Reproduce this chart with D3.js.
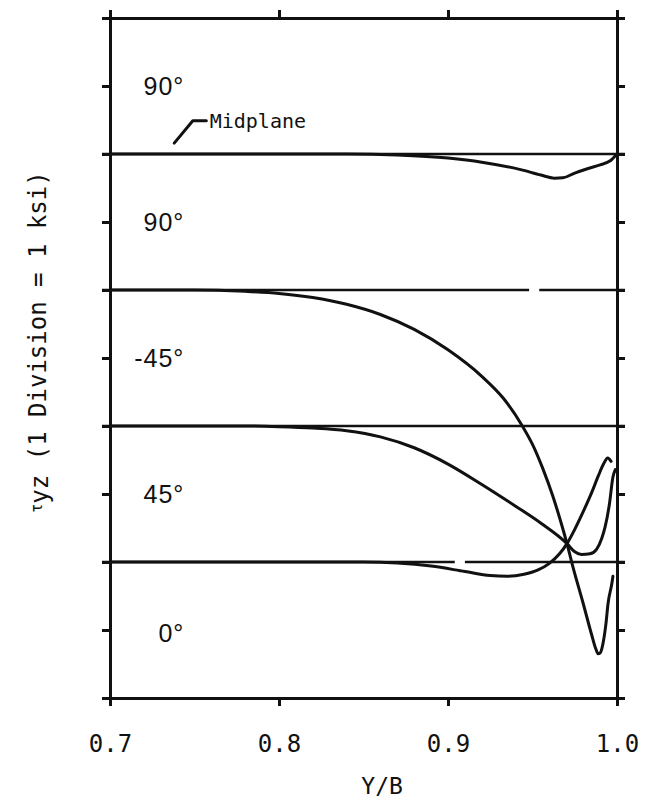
<!DOCTYPE html>
<html>
<head>
<meta charset="utf-8">
<script src="https://cdn.jsdelivr.net/npm/d3@7"></script>
<style>
  body { margin: 0; background: #fff; }
  .axis path, .axis line { stroke: #111; stroke-width: 3; }
  .axis text { font-family: "DejaVu Sans Mono", monospace; font-size: 24px; fill: #111; }
  .baseline { stroke: #111; stroke-width: 2.7; fill: none; }
  .curve { stroke: #111; stroke-width: 3; fill: none; stroke-linecap: round; stroke-linejoin: round; }
  .band { font-family: "Liberation Sans", Arial, sans-serif; font-size: 25px; fill: #111; letter-spacing: 1px; }
  .mono { font-family: "DejaVu Sans Mono", monospace; fill: #111; }
</style>
</head>
<body>
<svg id="chart"></svg>
<script>
// tick values / labels
var xTicks = [0.7, 0.8, 0.9, 1.0];
var xTickLabels = ["0.7", "0.8", "0.9", "1.0"];
var yDivisions = [0, 1, 2, 3, 4, 5, 6, 7, 8, 9, 10];

// zero lines of each ply (in divisions, 1 division = 1 ksi)
var baselines = [2, 4, 6, 8];
var baselineGaps = [[2, 0.904, 0.910], [6, 0.948, 0.954]];

// ply labels and the band they sit in
var bandLabels = ["0\u00b0", "45\u00b0", "-45\u00b0", "90\u00b0", "90\u00b0"];
var bandLabelY = [0.95, 3, 5, 7, 9];

// curves: [Y/B, divisions]
var midplane = [[0.70, 8.0], [0.84, 8.0], [0.87, 7.985], [0.90, 7.94], [0.92, 7.88], [0.943, 7.77],
  [0.955, 7.69], [0.963, 7.645], [0.968, 7.65], [0.975, 7.72], [0.982, 7.78], [0.99, 7.84],
  [0.996, 7.9], [1.0, 8.0]];
var ply45neg = [[0.70, 6.0], [0.75, 6.0], [0.78, 5.98], [0.80, 5.95], [0.82, 5.89], [0.84, 5.79],
  [0.86, 5.64], [0.88, 5.42], [0.90, 5.12], [0.92, 4.73], [0.933, 4.40], [0.944, 4.0],
  [0.950, 3.73], [0.956, 3.38], [0.962, 2.97], [0.967, 2.57], [0.9704, 2.27], [0.974, 1.92],
  [0.980, 1.39], [0.985, 0.93], [0.9875, 0.72], [0.9888, 0.65], [0.990, 0.66], [0.9917, 0.80],
  [0.9935, 1.10], [0.9947, 1.39], [0.997, 1.69], [0.9976, 1.79]];
var ply45 = [[0.70, 4.0], [0.78, 4.0], [0.80, 3.99], [0.82, 3.97], [0.84, 3.93], [0.86, 3.84],
  [0.88, 3.68], [0.90, 3.44], [0.92, 3.14], [0.94, 2.82], [0.955, 2.57], [0.9704, 2.27],
  [0.975, 2.15], [0.979, 2.11], [0.984, 2.12], [0.988, 2.19], [0.991, 2.35], [0.993, 2.52],
  [0.9955, 2.85], [0.9976, 3.25], [0.999, 3.36]];
var ply0 = [[0.70, 2.0], [0.85, 2.0], [0.87, 1.985], [0.89, 1.94], [0.91, 1.86], [0.925, 1.80],
  [0.935, 1.79], [0.945, 1.82], [0.953, 1.88], [0.960, 1.98], [0.966, 2.12], [0.9704, 2.27],
  [0.975, 2.48], [0.980, 2.74], [0.985, 3.02], [0.989, 3.27], [0.992, 3.44], [0.9945, 3.53],
  [0.9965, 3.48]];

// leader for the "Midplane" note
var midplaneLeader = [[0.738, 8.16], [0.749, 8.49], [0.757, 8.49]];

var width = 645, height = 807;
var margin = {top: 18, right: 28, bottom: 109, left: 110};

var svg = d3.select("#chart")
  .attr("width", width)
  .attr("height", height);

var xScale = d3.scaleLinear().domain([0.7, 1.0]).range([margin.left, width - margin.right]);
var yScale = d3.scaleLinear().domain([0, 10]).range([height - margin.bottom, margin.top]);

var line = d3.line()
  .x(function(d) { return xScale(d[0]); })
  .y(function(d) { return yScale(d[1]); })
  .curve(d3.curveMonotoneX);

// frame with ticks
svg.append("g")
  .attr("class", "axis")
  .attr("transform", `translate(0, ${yScale(0)})`)
  .call(d3.axisBottom(xScale).tickValues(xTicks).tickSize(8).tickSizeOuter(0).tickPadding(29)
    .tickFormat(function(d, i) { return xTickLabels[i]; }));

svg.append("g")
  .attr("class", "axis")
  .attr("transform", `translate(0, ${yScale(10)})`)
  .call(d3.axisTop(xScale).tickValues(xTicks).tickSize(8).tickSizeOuter(0).tickFormat(""));

svg.append("g")
  .attr("class", "axis")
  .attr("transform", `translate(${xScale(0.7)}, 0)`)
  .call(d3.axisLeft(yScale).tickValues(yDivisions).tickSize(8).tickSizeOuter(0).tickFormat(""));

svg.append("g")
  .attr("class", "axis")
  .attr("transform", `translate(${xScale(1.0)}, 0)`)
  .call(d3.axisRight(yScale).tickValues(yDivisions).tickSize(8).tickSizeOuter(0).tickFormat(""));

svg.selectAll(".axis path.domain").attr("stroke-linecap", "square");

// zero lines, with the small breaks seen in the original
baselines.forEach(function(b) {
  var gaps = baselineGaps.filter(function(g) { return g[0] === b; });
  var segs = [], start = 0.7;
  gaps.forEach(function(g) { segs.push([start, g[1]]); start = g[2]; });
  segs.push([start, 1.0]);
  segs.forEach(function(s) {
    svg.append("line")
      .attr("class", "baseline")
      .attr("x1", s[0] === 0.7 ? xScale(0.7) - 8 : xScale(s[0]))
      .attr("x2", s[1] === 1.0 ? xScale(1.0) + 8 : xScale(s[1]))
      .attr("y1", yScale(b))
      .attr("y2", yScale(b));
  });
});

// stress curves
[midplane, ply45neg, ply45, ply0].forEach(function(c) {
  svg.append("path")
    .attr("class", "curve")
    .attr("d", line(c));
});

// ply labels
svg.selectAll(".band")
  .data(bandLabels)
  .enter().append("text")
  .attr("class", "band")
  .attr("x", xScale(0.744))
  .attr("y", function(d, i) { return yScale(bandLabelY[i]); })
  .attr("dy", "0.36em")
  .attr("text-anchor", "end")
  .text(function(d) { return d; });

// midplane note
svg.append("path")
  .attr("class", "curve")
  .attr("d", d3.line()
    .x(function(d) { return xScale(d[0]); })
    .y(function(d) { return yScale(d[1]); })(midplaneLeader));

svg.append("text")
  .attr("class", "mono")
  .attr("x", xScale(0.759))
  .attr("y", yScale(8.49))
  .attr("dy", "0.35em")
  .style("font-size", "20px")
  .text("Midplane");

// axis titles
svg.append("text")
  .attr("class", "mono")
  .attr("x", xScale(0.861))
  .attr("y", 794)
  .attr("text-anchor", "middle")
  .style("font-size", "23px")
  .text("Y/B");

var yTitle = svg.append("text")
  .attr("class", "mono")
  .attr("transform", `translate(46, ${yScale(5) - 16}) rotate(-90)`)
  .attr("text-anchor", "middle")
  .style("font-size", "24px");
yTitle.append("tspan").style("font-size", "15px").attr("dy", -4).text("\u03c4");
yTitle.append("tspan").attr("dy", 6).text("yz");
yTitle.append("tspan").attr("dy", -2).text(" (1 Division = 1 ksi)");
</script>
</body>
</html>
